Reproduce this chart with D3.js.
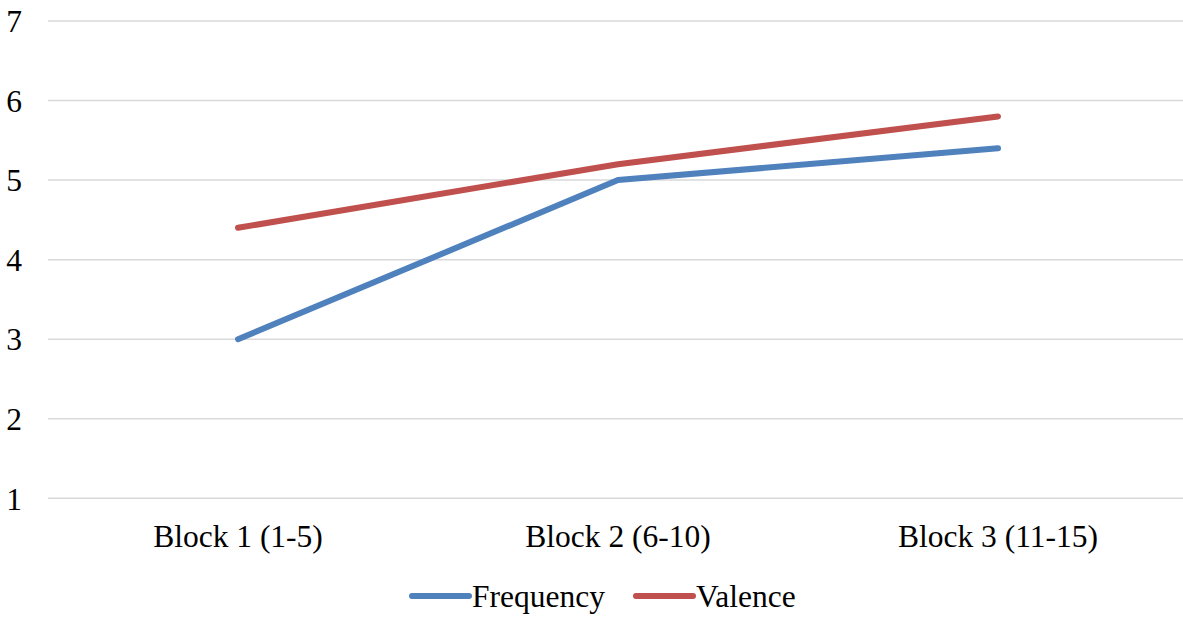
<!DOCTYPE html>
<html><head><meta charset="utf-8">
<script src="https://cdn.jsdelivr.net/npm/d3@7"></script>
<style>html,body{margin:0;padding:0;background:#fff;overflow:hidden}</style>
</head><body>
<script>
const categories = ["Block 1 (1-5)", "Block 2 (6-10)", "Block 3 (11-15)"];
const frequency = [3, 5, 5.4];
const valence = [4.4, 5.2, 5.8];
const yTicks = [1, 2, 3, 4, 5, 6, 7];
const seriesNames = ["Frequency", "Valence"];
const colors = ["#4F81BD", "#C0504D"];

const W = 1183, H = 617;
const FS = 31.5;
const svg = d3.select("body").append("svg").attr("width", W).attr("height", H)
  .style("font-family", "'Liberation Serif','Times New Roman',serif");

const x = d3.scaleBand().domain(categories).range([48, 1188]);
const y = d3.scaleLinear().domain([1, 7]).range([498.3, 21]);

// gridlines
svg.append("g").selectAll("line").data(yTicks).join("line")
  .attr("x1", 48).attr("x2", 1188)
  .attr("y1", d => y(d)).attr("y2", d => y(d))
  .attr("stroke", "#d9d9d9").attr("stroke-width", 1.5);

// y axis labels
const yAxis = d3.axisLeft(y).tickValues(yTicks).tickSize(0).tickPadding(0).tickFormat(d3.format("d"));
const ya = svg.append("g").attr("transform", "translate(22,0)").call(yAxis);
ya.select(".domain").remove();
ya.selectAll("text").attr("font-size", FS).attr("fill", "#000")
  .attr("font-family", "'Liberation Serif','Times New Roman',serif").attr("dy", "0.34em");

// x axis labels
const xAxis = d3.axisBottom(x).tickSize(0).tickPadding(0);
const xa = svg.append("g").attr("transform", "translate(0,547)").call(xAxis);
xa.select(".domain").remove();
xa.selectAll("text").attr("font-size", FS).attr("fill", "#000").attr("dy", 0)
  .attr("font-family", "'Liberation Serif','Times New Roman',serif");

const line = d3.line().x((d, i) => x(categories[i]) + x.bandwidth() / 2).y(d => y(d));
[frequency, valence].forEach((s, k) => {
  svg.append("path").datum(s).attr("d", line).attr("fill", "none")
    .attr("stroke", colors[k]).attr("stroke-width", 6)
    .attr("stroke-linecap", "round").attr("stroke-linejoin", "round");
});

// legend
const legendItems = [{x: 412, name: seriesNames[0], c: colors[0]}, {x: 636, name: seriesNames[1], c: colors[1]}];
const lg = svg.append("g");
legendItems.forEach(it => {
  lg.append("line").attr("x1", it.x).attr("x2", it.x + 57).attr("y1", 596).attr("y2", 596)
    .attr("stroke", it.c).attr("stroke-width", 6).attr("stroke-linecap", "round");
  lg.append("text").attr("x", it.x + 60).attr("y", 607).attr("font-size", FS).text(it.name);
});
</script>
</body></html>
